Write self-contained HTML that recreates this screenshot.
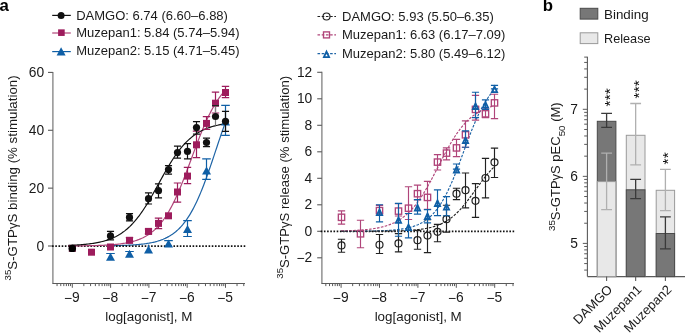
<!DOCTYPE html>
<html><head><meta charset="utf-8"><style>
html,body{margin:0;padding:0;background:#fff;}
body{width:685px;height:335px;overflow:hidden;}
svg{display:block;will-change:transform;}
.t{font-family:"Liberation Sans",sans-serif;font-size:13px;fill:#1a1a1a;}
.pl{font-family:"Liberation Sans",sans-serif;font-size:16.8px;font-weight:bold;fill:#000;}
.st{font-family:"Liberation Sans",sans-serif;font-size:15.5px;fill:#111;}
.yl{font-size:13.3px;}
.tk{font-size:13.8px;}
.xl{font-size:13.4px;}
</style></head><body>
<svg width="685" height="335" viewBox="0 0 685 335">
<g id="left">
<line x1="52.9" y1="71.9" x2="52.9" y2="283.5" stroke="#777" stroke-width="1.2"/>
<line x1="48" y1="246" x2="52.9" y2="246" stroke="#5a5a5a" stroke-width="1.1"/>
<text x="44.1" y="250.5" text-anchor="end" class="t tk">0</text>
<line x1="48" y1="188.14" x2="52.9" y2="188.14" stroke="#5a5a5a" stroke-width="1.1"/>
<text x="44.1" y="192.64" text-anchor="end" class="t tk">20</text>
<line x1="48" y1="130.28" x2="52.9" y2="130.28" stroke="#5a5a5a" stroke-width="1.1"/>
<text x="44.1" y="134.78" text-anchor="end" class="t tk">40</text>
<line x1="48" y1="72.42" x2="52.9" y2="72.42" stroke="#5a5a5a" stroke-width="1.1"/>
<text x="44.1" y="76.92" text-anchor="end" class="t tk">60</text>
<line x1="52.4" y1="283.5" x2="245" y2="283.5" stroke="#5a5a5a" stroke-width="1"/>
<line x1="57.06" y1="283.5" x2="57.06" y2="286.1" stroke="#5a5a5a" stroke-width="1"/>
<line x1="60.77" y1="283.5" x2="60.77" y2="286.1" stroke="#5a5a5a" stroke-width="1"/>
<line x1="63.8" y1="283.5" x2="63.8" y2="286.1" stroke="#5a5a5a" stroke-width="1"/>
<line x1="66.37" y1="283.5" x2="66.37" y2="286.1" stroke="#5a5a5a" stroke-width="1"/>
<line x1="68.59" y1="283.5" x2="68.59" y2="286.1" stroke="#5a5a5a" stroke-width="1"/>
<line x1="70.55" y1="283.5" x2="70.55" y2="286.1" stroke="#5a5a5a" stroke-width="1"/>
<line x1="72.3" y1="283.5" x2="72.3" y2="287.8" stroke="#5a5a5a" stroke-width="1"/>
<line x1="83.83" y1="283.5" x2="83.83" y2="286.1" stroke="#5a5a5a" stroke-width="1"/>
<line x1="90.57" y1="283.5" x2="90.57" y2="286.1" stroke="#5a5a5a" stroke-width="1"/>
<line x1="95.36" y1="283.5" x2="95.36" y2="286.1" stroke="#5a5a5a" stroke-width="1"/>
<line x1="99.07" y1="283.5" x2="99.07" y2="286.1" stroke="#5a5a5a" stroke-width="1"/>
<line x1="102.1" y1="283.5" x2="102.1" y2="286.1" stroke="#5a5a5a" stroke-width="1"/>
<line x1="104.67" y1="283.5" x2="104.67" y2="286.1" stroke="#5a5a5a" stroke-width="1"/>
<line x1="106.89" y1="283.5" x2="106.89" y2="286.1" stroke="#5a5a5a" stroke-width="1"/>
<line x1="108.85" y1="283.5" x2="108.85" y2="286.1" stroke="#5a5a5a" stroke-width="1"/>
<line x1="110.6" y1="283.5" x2="110.6" y2="287.8" stroke="#5a5a5a" stroke-width="1"/>
<line x1="122.13" y1="283.5" x2="122.13" y2="286.1" stroke="#5a5a5a" stroke-width="1"/>
<line x1="128.87" y1="283.5" x2="128.87" y2="286.1" stroke="#5a5a5a" stroke-width="1"/>
<line x1="133.66" y1="283.5" x2="133.66" y2="286.1" stroke="#5a5a5a" stroke-width="1"/>
<line x1="137.37" y1="283.5" x2="137.37" y2="286.1" stroke="#5a5a5a" stroke-width="1"/>
<line x1="140.4" y1="283.5" x2="140.4" y2="286.1" stroke="#5a5a5a" stroke-width="1"/>
<line x1="142.97" y1="283.5" x2="142.97" y2="286.1" stroke="#5a5a5a" stroke-width="1"/>
<line x1="145.19" y1="283.5" x2="145.19" y2="286.1" stroke="#5a5a5a" stroke-width="1"/>
<line x1="147.15" y1="283.5" x2="147.15" y2="286.1" stroke="#5a5a5a" stroke-width="1"/>
<line x1="148.9" y1="283.5" x2="148.9" y2="287.8" stroke="#5a5a5a" stroke-width="1"/>
<line x1="160.43" y1="283.5" x2="160.43" y2="286.1" stroke="#5a5a5a" stroke-width="1"/>
<line x1="167.17" y1="283.5" x2="167.17" y2="286.1" stroke="#5a5a5a" stroke-width="1"/>
<line x1="171.96" y1="283.5" x2="171.96" y2="286.1" stroke="#5a5a5a" stroke-width="1"/>
<line x1="175.67" y1="283.5" x2="175.67" y2="286.1" stroke="#5a5a5a" stroke-width="1"/>
<line x1="178.7" y1="283.5" x2="178.7" y2="286.1" stroke="#5a5a5a" stroke-width="1"/>
<line x1="181.27" y1="283.5" x2="181.27" y2="286.1" stroke="#5a5a5a" stroke-width="1"/>
<line x1="183.49" y1="283.5" x2="183.49" y2="286.1" stroke="#5a5a5a" stroke-width="1"/>
<line x1="185.45" y1="283.5" x2="185.45" y2="286.1" stroke="#5a5a5a" stroke-width="1"/>
<line x1="187.2" y1="283.5" x2="187.2" y2="287.8" stroke="#5a5a5a" stroke-width="1"/>
<line x1="198.73" y1="283.5" x2="198.73" y2="286.1" stroke="#5a5a5a" stroke-width="1"/>
<line x1="205.47" y1="283.5" x2="205.47" y2="286.1" stroke="#5a5a5a" stroke-width="1"/>
<line x1="210.26" y1="283.5" x2="210.26" y2="286.1" stroke="#5a5a5a" stroke-width="1"/>
<line x1="213.97" y1="283.5" x2="213.97" y2="286.1" stroke="#5a5a5a" stroke-width="1"/>
<line x1="217" y1="283.5" x2="217" y2="286.1" stroke="#5a5a5a" stroke-width="1"/>
<line x1="219.57" y1="283.5" x2="219.57" y2="286.1" stroke="#5a5a5a" stroke-width="1"/>
<line x1="221.79" y1="283.5" x2="221.79" y2="286.1" stroke="#5a5a5a" stroke-width="1"/>
<line x1="223.75" y1="283.5" x2="223.75" y2="286.1" stroke="#5a5a5a" stroke-width="1"/>
<line x1="225.5" y1="283.5" x2="225.5" y2="287.8" stroke="#5a5a5a" stroke-width="1"/>
<line x1="237.03" y1="283.5" x2="237.03" y2="286.1" stroke="#5a5a5a" stroke-width="1"/>
<line x1="243.77" y1="283.5" x2="243.77" y2="286.1" stroke="#5a5a5a" stroke-width="1"/>
<text x="71.9" y="302" text-anchor="middle" class="t tk"><tspan dy="0.8">−</tspan><tspan dy="-0.8">9</tspan></text>
<text x="110.2" y="302" text-anchor="middle" class="t tk"><tspan dy="0.8">−</tspan><tspan dy="-0.8">8</tspan></text>
<text x="148.5" y="302" text-anchor="middle" class="t tk"><tspan dy="0.8">−</tspan><tspan dy="-0.8">7</tspan></text>
<text x="186.8" y="302" text-anchor="middle" class="t tk"><tspan dy="0.8">−</tspan><tspan dy="-0.8">6</tspan></text>
<text x="225.1" y="302" text-anchor="middle" class="t tk"><tspan dy="0.8">−</tspan><tspan dy="-0.8">5</tspan></text>
<text x="148.8" y="320.8" text-anchor="middle" class="t xl">log[agonist], M</text>
<text transform="translate(16.6,177.9) rotate(-90)" text-anchor="middle" class="t yl"><tspan font-size="9.6" dy="-5.6">35</tspan><tspan dy="5.6">S-GTPγS binding (% stimulation)</tspan></text>
</g>
<g id="ldata"><polyline points="106.77,245.8 107.76,245.78 108.75,245.77 109.74,245.75 110.73,245.74 111.72,245.72 112.71,245.7 113.7,245.69 114.69,245.67 115.67,245.64 116.66,245.62 117.65,245.6 118.64,245.57 119.63,245.54 120.62,245.51 121.61,245.48 122.6,245.45 123.59,245.42 124.58,245.38 125.57,245.34 126.56,245.3 127.55,245.25 128.54,245.2 129.53,245.15 130.52,245.1 131.51,245.04 132.49,244.98 133.48,244.92 134.47,244.85 135.46,244.77 136.45,244.69 137.44,244.61 138.43,244.52 139.42,244.43 140.41,244.33 141.4,244.22 142.39,244.11 143.38,243.99 144.37,243.86 145.36,243.73 146.35,243.58 147.34,243.43 148.33,243.27 149.31,243.1 150.3,242.91 151.29,242.72 152.28,242.51 153.27,242.29 154.26,242.06 155.25,241.82 156.24,241.55 157.23,241.28 158.22,240.98 159.21,240.67 160.2,240.34 161.19,239.98 162.18,239.61 163.17,239.22 164.16,238.8 165.15,238.36 166.13,237.89 167.12,237.39 168.11,236.86 169.1,236.31 170.09,235.72 171.08,235.1 172.07,234.44 173.06,233.75 174.05,233.02 175.04,232.25 176.03,231.43 177.02,230.57 178.01,229.67 179,228.72 179.99,227.71 180.98,226.66 181.97,225.55 182.96,224.39 183.94,223.17 184.93,221.89 185.92,220.56 186.91,219.15 187.9,217.69 188.89,216.16 189.88,214.56 190.87,212.89 191.86,211.16 192.85,209.35 193.84,207.48 194.83,205.53 195.82,203.52 196.81,201.43 197.8,199.27 198.79,197.04 199.78,194.75 200.76,192.38 201.75,189.95 202.74,187.46 203.73,184.91 204.72,182.3 205.71,179.64 206.7,176.92 207.69,174.16 208.68,171.35 209.67,168.51 210.66,165.63 211.65,162.73 212.64,159.8 213.63,156.85 214.62,153.89 215.61,150.93 216.6,147.96 217.58,145 218.57,142.05 219.56,139.11 220.55,136.2 221.54,133.32 222.53,130.46 223.52,127.64 224.51,124.87 225.5,122.14" fill="none" stroke="#1e64a6" stroke-width="1.2"/>
<line x1="52.1" y1="246.1" x2="245.3" y2="246.1" stroke="#111" stroke-width="1.8" stroke-dasharray="1.6 1.593"/>
<polyline points="68.47,245.91 69.78,245.91 71.09,245.9 72.4,245.89 73.7,245.88 75.01,245.87 76.32,245.86 77.63,245.85 78.94,245.84 80.25,245.82 81.56,245.81 82.86,245.79 84.17,245.77 85.48,245.75 86.79,245.73 88.1,245.71 89.41,245.69 90.72,245.66 92.02,245.63 93.33,245.6 94.64,245.57 95.95,245.53 97.26,245.49 98.57,245.45 99.88,245.4 101.18,245.35 102.49,245.3 103.8,245.24 105.11,245.17 106.42,245.11 107.73,245.03 109.04,244.95 110.34,244.86 111.65,244.76 112.96,244.66 114.27,244.55 115.58,244.43 116.89,244.3 118.2,244.15 119.5,244 120.81,243.83 122.12,243.65 123.43,243.45 124.74,243.24 126.05,243.01 127.36,242.77 128.66,242.5 129.97,242.21 131.28,241.9 132.59,241.56 133.9,241.19 135.21,240.8 136.52,240.37 137.82,239.91 139.13,239.42 140.44,238.89 141.75,238.31 143.06,237.69 144.37,237.02 145.68,236.31 146.99,235.54 148.29,234.71 149.6,233.82 150.91,232.87 152.22,231.85 153.53,230.76 154.84,229.59 156.15,228.35 157.45,227.02 158.76,225.6 160.07,224.09 161.38,222.49 162.69,220.79 164,218.99 165.31,217.08 166.61,215.07 167.92,212.95 169.23,210.72 170.54,208.38 171.85,205.93 173.16,203.37 174.47,200.7 175.77,197.93 177.08,195.05 178.39,192.07 179.7,189 181.01,185.85 182.32,182.61 183.63,179.3 184.93,175.92 186.24,172.49 187.55,169.02 188.86,165.51 190.17,161.98 191.48,158.44 192.79,154.9 194.09,151.38 195.4,147.87 196.71,144.41 198.02,140.98 199.33,137.62 200.64,134.32 201.95,131.09 203.25,127.95 204.56,124.89 205.87,121.93 207.18,119.07 208.49,116.31 209.8,113.66 211.11,111.12 212.41,108.68 213.72,106.36 215.03,104.15 216.34,102.05 217.65,100.05 218.96,98.16 220.27,96.38 221.57,94.69 222.88,93.1 224.19,91.61 225.5,90.21" fill="none" stroke="#b0457a" stroke-width="1.2"/>
<polyline points="68.47,245.36 69.78,245.31 71.09,245.25 72.4,245.19 73.7,245.13 75.01,245.06 76.32,244.99 77.63,244.91 78.94,244.82 80.25,244.73 81.56,244.63 82.86,244.52 84.17,244.41 85.48,244.28 86.79,244.15 88.1,244 89.41,243.85 90.72,243.68 92.02,243.5 93.33,243.31 94.64,243.1 95.95,242.87 97.26,242.63 98.57,242.37 99.88,242.09 101.18,241.79 102.49,241.47 103.8,241.13 105.11,240.75 106.42,240.36 107.73,239.93 109.04,239.47 110.34,238.99 111.65,238.46 112.96,237.9 114.27,237.31 115.58,236.67 116.89,235.99 118.2,235.26 119.5,234.49 120.81,233.66 122.12,232.79 123.43,231.86 124.74,230.87 126.05,229.82 127.36,228.72 128.66,227.55 129.97,226.32 131.28,225.02 132.59,223.65 133.9,222.21 135.21,220.71 136.52,219.13 137.82,217.49 139.13,215.77 140.44,213.99 141.75,212.14 143.06,210.22 144.37,208.25 145.68,206.2 146.99,204.11 148.29,201.96 149.6,199.76 150.91,197.52 152.22,195.23 153.53,192.92 154.84,190.58 156.15,188.22 157.45,185.85 158.76,183.47 160.07,181.09 161.38,178.72 162.69,176.36 164,174.03 165.31,171.72 166.61,169.44 167.92,167.21 169.23,165.02 170.54,162.88 171.85,160.79 173.16,158.76 174.47,156.79 175.77,154.89 177.08,153.05 178.39,151.28 179.7,149.58 181.01,147.94 182.32,146.38 183.63,144.89 184.93,143.47 186.24,142.11 187.55,140.82 188.86,139.6 190.17,138.45 191.48,137.35 192.79,136.32 194.09,135.34 195.4,134.42 196.71,133.55 198.02,132.74 199.33,131.98 200.64,131.26 201.95,130.58 203.25,129.95 204.56,129.36 205.87,128.81 207.18,128.29 208.49,127.81 209.8,127.36 211.11,126.94 212.41,126.55 213.72,126.18 215.03,125.84 216.34,125.52 217.65,125.22 218.96,124.95 220.27,124.69 221.57,124.45 222.88,124.23 224.19,124.03 225.5,123.84" fill="none" stroke="#111" stroke-width="1.2"/>
<path d="M110.5 256.7V253.5M106.2 253.5H114.8" stroke="#0f5fa6" stroke-width="1.2" fill="none"/>
<path d="M129.5 253.7V251.5M125.2 251.5H133.8" stroke="#0f5fa6" stroke-width="1.2" fill="none"/>
<line x1="148.5" y1="244.6" x2="148.5" y2="249.6" stroke="#0f5fa6" stroke-width="1.3"/>
<path d="M168.5 243.6V240.6M164.2 240.6H172.8" stroke="#0f5fa6" stroke-width="1.2" fill="none"/>
<path d="M187.5 220.6V236.5M183.2 220.6H191.8M183.2 236.5H191.8" stroke="#0f5fa6" stroke-width="1.2" fill="none"/>
<path d="M206.5 158.8V179.4M202.2 158.8H210.8M202.2 179.4H210.8" stroke="#0f5fa6" stroke-width="1.2" fill="none"/>
<path d="M225.5 105.4V135.4M221.2 105.4H229.8M221.2 135.4H229.8" stroke="#0f5fa6" stroke-width="1.2" fill="none"/>
<polygon points="110.5,252.7 115,260.7 106,260.7" fill="#0f5fa6"/>
<polygon points="129.5,249.7 134,257.7 125,257.7" fill="#0f5fa6"/>
<polygon points="148.5,245.6 153,253.6 144,253.6" fill="#0f5fa6"/>
<polygon points="168.5,239.6 173,247.6 164,247.6" fill="#0f5fa6"/>
<polygon points="187.5,225.1 192,233.1 183,233.1" fill="#0f5fa6"/>
<polygon points="206.5,166.4 211,174.4 202,174.4" fill="#0f5fa6"/>
<polygon points="225.5,117.5 230,125.5 221,125.5" fill="#0f5fa6"/>
<path d="M129.5 237.6V243M125.8 237.6H133.2M125.8 243H133.2" stroke="#9d1c5c" stroke-width="1.2" fill="none"/>
<path d="M148.5 229V233.8M144.8 229H152.2M144.8 233.8H152.2" stroke="#9d1c5c" stroke-width="1.2" fill="none"/>
<path d="M158.5 218.2V228.6M154.8 218.2H162.2M154.8 228.6H162.2" stroke="#9d1c5c" stroke-width="1.2" fill="none"/>
<path d="M177.5 183V202.1M173.8 183H181.2M173.8 202.1H181.2" stroke="#9d1c5c" stroke-width="1.2" fill="none"/>
<path d="M187.5 167.4V183.7M183.8 167.4H191.2M183.8 183.7H191.2" stroke="#9d1c5c" stroke-width="1.2" fill="none"/>
<path d="M196.5 131.1V157.7M192.8 131.1H200.2M192.8 157.7H200.2" stroke="#9d1c5c" stroke-width="1.2" fill="none"/>
<path d="M206.5 116.7V129.4M202.8 116.7H210.2M202.8 129.4H210.2" stroke="#9d1c5c" stroke-width="1.2" fill="none"/>
<path d="M215.5 92.2V113M211.8 92.2H219.2M211.8 113H219.2" stroke="#9d1c5c" stroke-width="1.2" fill="none"/>
<path d="M225.5 86.3V97.7M221.8 86.3H229.2M221.8 97.7H229.2" stroke="#9d1c5c" stroke-width="1.2" fill="none"/>
<rect x="88" y="248.7" width="7.0" height="7.0" fill="#9d1c5c"/>
<rect x="107" y="243.5" width="7.0" height="7.0" fill="#9d1c5c"/>
<rect x="126" y="236.8" width="7.0" height="7.0" fill="#9d1c5c"/>
<rect x="145" y="227.9" width="7.0" height="7.0" fill="#9d1c5c"/>
<rect x="155" y="219.9" width="7.0" height="7.0" fill="#9d1c5c"/>
<rect x="165" y="212.3" width="7.0" height="7.0" fill="#9d1c5c"/>
<rect x="174" y="188.5" width="7.0" height="7.0" fill="#9d1c5c"/>
<rect x="184" y="172.6" width="7.0" height="7.0" fill="#9d1c5c"/>
<rect x="193" y="141.3" width="7.0" height="7.0" fill="#9d1c5c"/>
<rect x="203" y="119.9" width="7.0" height="7.0" fill="#9d1c5c"/>
<rect x="212" y="99.7" width="7.0" height="7.0" fill="#9d1c5c"/>
<rect x="222" y="89" width="7.0" height="7.0" fill="#9d1c5c"/>
<line x1="215.5" y1="105.6" x2="215.5" y2="125.5" stroke="#808080" stroke-width="1.2"/>
<line x1="212" y1="105.6" x2="219" y2="105.6" stroke="#222" stroke-width="1.2"/>
<path d="M110.5 231.4V239.9M106.95 231.4H114.05M106.95 239.9H114.05" stroke="#111" stroke-width="1.2" fill="none"/>
<path d="M129.5 213.6V220.9M125.95 213.6H133.05M125.95 220.9H133.05" stroke="#111" stroke-width="1.2" fill="none"/>
<path d="M148.5 192.8V204M144.95 192.8H152.05M144.95 204H152.05" stroke="#111" stroke-width="1.2" fill="none"/>
<path d="M158.5 183.8V197.8M154.95 183.8H162.05M154.95 197.8H162.05" stroke="#111" stroke-width="1.2" fill="none"/>
<path d="M168.5 165.6V174.1M164.95 165.6H172.05M164.95 174.1H172.05" stroke="#111" stroke-width="1.2" fill="none"/>
<path d="M177.5 146.2V158.1M173.95 146.2H181.05M173.95 158.1H181.05" stroke="#111" stroke-width="1.2" fill="none"/>
<path d="M187.5 143.7V158.9M183.95 143.7H191.05M183.95 158.9H191.05" stroke="#111" stroke-width="1.2" fill="none"/>
<path d="M196.5 121.6V134.2M192.95 121.6H200.05M192.95 134.2H200.05" stroke="#111" stroke-width="1.2" fill="none"/>
<path d="M206.5 138.1V146.6M202.95 138.1H210.05M202.95 146.6H210.05" stroke="#111" stroke-width="1.2" fill="none"/>
<path d="M225.5 111.3V131.4M221.95 111.3H229.05M221.95 131.4H229.05" stroke="#111" stroke-width="1.2" fill="none"/>
<circle cx="110.5" cy="235.9" r="3.6" fill="#111"/>
<circle cx="129.5" cy="217.4" r="3.6" fill="#111"/>
<circle cx="148.5" cy="198.7" r="3.6" fill="#111"/>
<circle cx="158.5" cy="190.7" r="3.6" fill="#111"/>
<circle cx="168.5" cy="169.6" r="3.6" fill="#111"/>
<circle cx="177.5" cy="152.6" r="3.6" fill="#111"/>
<circle cx="187.5" cy="151.4" r="3.6" fill="#111"/>
<circle cx="196.5" cy="127.6" r="3.6" fill="#111"/>
<circle cx="206.5" cy="142.5" r="3.6" fill="#111"/>
<circle cx="225.5" cy="121.3" r="3.6" fill="#111"/>
<circle cx="215.5" cy="116.5" r="3.6" fill="#111"/>
<rect x="68.8" y="244.9" width="7.0" height="7.0" fill="#5a1034"/>
<circle cx="72.3" cy="248.4" r="3.7" fill="#000"/></g>
<g id="right">
<line x1="321.9" y1="71.8" x2="321.9" y2="283.5" stroke="#777" stroke-width="1.2"/>
<line x1="317.2" y1="257.8" x2="321.9" y2="257.8" stroke="#5a5a5a" stroke-width="1.1"/>
<text x="312.3" y="262.25" text-anchor="end" class="t tk"><tspan dy="0.8">−</tspan><tspan dy="-0.8">2</tspan></text>
<line x1="317.2" y1="231.3" x2="321.9" y2="231.3" stroke="#5a5a5a" stroke-width="1.1"/>
<text x="312.3" y="235.75" text-anchor="end" class="t tk">0</text>
<line x1="317.2" y1="204.8" x2="321.9" y2="204.8" stroke="#5a5a5a" stroke-width="1.1"/>
<text x="312.3" y="209.25" text-anchor="end" class="t tk">2</text>
<line x1="317.2" y1="178.3" x2="321.9" y2="178.3" stroke="#5a5a5a" stroke-width="1.1"/>
<text x="312.3" y="182.75" text-anchor="end" class="t tk">4</text>
<line x1="317.2" y1="151.8" x2="321.9" y2="151.8" stroke="#5a5a5a" stroke-width="1.1"/>
<text x="312.3" y="156.25" text-anchor="end" class="t tk">6</text>
<line x1="317.2" y1="125.3" x2="321.9" y2="125.3" stroke="#5a5a5a" stroke-width="1.1"/>
<text x="312.3" y="129.75" text-anchor="end" class="t tk">8</text>
<line x1="317.2" y1="98.8" x2="321.9" y2="98.8" stroke="#5a5a5a" stroke-width="1.1"/>
<text x="312.3" y="103.25" text-anchor="end" class="t tk">10</text>
<line x1="317.2" y1="72.3" x2="321.9" y2="72.3" stroke="#5a5a5a" stroke-width="1.1"/>
<text x="312.3" y="76.75" text-anchor="end" class="t tk">12</text>
<line x1="321.4" y1="283.5" x2="514" y2="283.5" stroke="#5a5a5a" stroke-width="1"/>
<line x1="325.82" y1="283.5" x2="325.82" y2="286.1" stroke="#5a5a5a" stroke-width="1"/>
<line x1="329.54" y1="283.5" x2="329.54" y2="286.1" stroke="#5a5a5a" stroke-width="1"/>
<line x1="332.58" y1="283.5" x2="332.58" y2="286.1" stroke="#5a5a5a" stroke-width="1"/>
<line x1="335.15" y1="283.5" x2="335.15" y2="286.1" stroke="#5a5a5a" stroke-width="1"/>
<line x1="337.38" y1="283.5" x2="337.38" y2="286.1" stroke="#5a5a5a" stroke-width="1"/>
<line x1="339.34" y1="283.5" x2="339.34" y2="286.1" stroke="#5a5a5a" stroke-width="1"/>
<line x1="341.1" y1="283.5" x2="341.1" y2="287.8" stroke="#5a5a5a" stroke-width="1"/>
<line x1="352.66" y1="283.5" x2="352.66" y2="286.1" stroke="#5a5a5a" stroke-width="1"/>
<line x1="359.42" y1="283.5" x2="359.42" y2="286.1" stroke="#5a5a5a" stroke-width="1"/>
<line x1="364.22" y1="283.5" x2="364.22" y2="286.1" stroke="#5a5a5a" stroke-width="1"/>
<line x1="367.94" y1="283.5" x2="367.94" y2="286.1" stroke="#5a5a5a" stroke-width="1"/>
<line x1="370.98" y1="283.5" x2="370.98" y2="286.1" stroke="#5a5a5a" stroke-width="1"/>
<line x1="373.55" y1="283.5" x2="373.55" y2="286.1" stroke="#5a5a5a" stroke-width="1"/>
<line x1="375.78" y1="283.5" x2="375.78" y2="286.1" stroke="#5a5a5a" stroke-width="1"/>
<line x1="377.74" y1="283.5" x2="377.74" y2="286.1" stroke="#5a5a5a" stroke-width="1"/>
<line x1="379.5" y1="283.5" x2="379.5" y2="287.8" stroke="#5a5a5a" stroke-width="1"/>
<line x1="391.06" y1="283.5" x2="391.06" y2="286.1" stroke="#5a5a5a" stroke-width="1"/>
<line x1="397.82" y1="283.5" x2="397.82" y2="286.1" stroke="#5a5a5a" stroke-width="1"/>
<line x1="402.62" y1="283.5" x2="402.62" y2="286.1" stroke="#5a5a5a" stroke-width="1"/>
<line x1="406.34" y1="283.5" x2="406.34" y2="286.1" stroke="#5a5a5a" stroke-width="1"/>
<line x1="409.38" y1="283.5" x2="409.38" y2="286.1" stroke="#5a5a5a" stroke-width="1"/>
<line x1="411.95" y1="283.5" x2="411.95" y2="286.1" stroke="#5a5a5a" stroke-width="1"/>
<line x1="414.18" y1="283.5" x2="414.18" y2="286.1" stroke="#5a5a5a" stroke-width="1"/>
<line x1="416.14" y1="283.5" x2="416.14" y2="286.1" stroke="#5a5a5a" stroke-width="1"/>
<line x1="417.9" y1="283.5" x2="417.9" y2="287.8" stroke="#5a5a5a" stroke-width="1"/>
<line x1="429.46" y1="283.5" x2="429.46" y2="286.1" stroke="#5a5a5a" stroke-width="1"/>
<line x1="436.22" y1="283.5" x2="436.22" y2="286.1" stroke="#5a5a5a" stroke-width="1"/>
<line x1="441.02" y1="283.5" x2="441.02" y2="286.1" stroke="#5a5a5a" stroke-width="1"/>
<line x1="444.74" y1="283.5" x2="444.74" y2="286.1" stroke="#5a5a5a" stroke-width="1"/>
<line x1="447.78" y1="283.5" x2="447.78" y2="286.1" stroke="#5a5a5a" stroke-width="1"/>
<line x1="450.35" y1="283.5" x2="450.35" y2="286.1" stroke="#5a5a5a" stroke-width="1"/>
<line x1="452.58" y1="283.5" x2="452.58" y2="286.1" stroke="#5a5a5a" stroke-width="1"/>
<line x1="454.54" y1="283.5" x2="454.54" y2="286.1" stroke="#5a5a5a" stroke-width="1"/>
<line x1="456.3" y1="283.5" x2="456.3" y2="287.8" stroke="#5a5a5a" stroke-width="1"/>
<line x1="467.86" y1="283.5" x2="467.86" y2="286.1" stroke="#5a5a5a" stroke-width="1"/>
<line x1="474.62" y1="283.5" x2="474.62" y2="286.1" stroke="#5a5a5a" stroke-width="1"/>
<line x1="479.42" y1="283.5" x2="479.42" y2="286.1" stroke="#5a5a5a" stroke-width="1"/>
<line x1="483.14" y1="283.5" x2="483.14" y2="286.1" stroke="#5a5a5a" stroke-width="1"/>
<line x1="486.18" y1="283.5" x2="486.18" y2="286.1" stroke="#5a5a5a" stroke-width="1"/>
<line x1="488.75" y1="283.5" x2="488.75" y2="286.1" stroke="#5a5a5a" stroke-width="1"/>
<line x1="490.98" y1="283.5" x2="490.98" y2="286.1" stroke="#5a5a5a" stroke-width="1"/>
<line x1="492.94" y1="283.5" x2="492.94" y2="286.1" stroke="#5a5a5a" stroke-width="1"/>
<line x1="494.7" y1="283.5" x2="494.7" y2="287.8" stroke="#5a5a5a" stroke-width="1"/>
<line x1="506.26" y1="283.5" x2="506.26" y2="286.1" stroke="#5a5a5a" stroke-width="1"/>
<line x1="513.02" y1="283.5" x2="513.02" y2="286.1" stroke="#5a5a5a" stroke-width="1"/>
<text x="340.7" y="302" text-anchor="middle" class="t tk"><tspan dy="0.8">−</tspan><tspan dy="-0.8">9</tspan></text>
<text x="379.1" y="302" text-anchor="middle" class="t tk"><tspan dy="0.8">−</tspan><tspan dy="-0.8">8</tspan></text>
<text x="417.5" y="302" text-anchor="middle" class="t tk"><tspan dy="0.8">−</tspan><tspan dy="-0.8">7</tspan></text>
<text x="455.9" y="302" text-anchor="middle" class="t tk"><tspan dy="0.8">−</tspan><tspan dy="-0.8">6</tspan></text>
<text x="494.3" y="302" text-anchor="middle" class="t tk"><tspan dy="0.8">−</tspan><tspan dy="-0.8">5</tspan></text>
<text x="418.2" y="320.8" text-anchor="middle" class="t xl">log[agonist], M</text>
<text transform="translate(288.8,177.3) rotate(-90)" text-anchor="middle" class="t yl" style="font-size:13.1px"><tspan font-size="9.6" dy="-5.6">35</tspan><tspan dy="5.6">S-GTPγS release (% stimulation)</tspan></text>
<line x1="320.7" y1="231.4" x2="514.2" y2="231.4" stroke="#111" stroke-width="1.7" stroke-dasharray="1.6 1.598"/>
</g>
<g id="rdata"><polyline points="341.1,231.26 342.38,231.26 343.66,231.26 344.94,231.25 346.22,231.25 347.5,231.25 348.78,231.24 350.06,231.23 351.34,231.23 352.62,231.22 353.9,231.21 355.18,231.21 356.46,231.2 357.74,231.19 359.02,231.18 360.3,231.17 361.58,231.16 362.86,231.14 364.14,231.13 365.42,231.11 366.7,231.09 367.98,231.08 369.26,231.06 370.54,231.03 371.82,231.01 373.1,230.98 374.38,230.95 375.66,230.92 376.94,230.89 378.22,230.85 379.5,230.81 380.78,230.76 382.06,230.71 383.34,230.66 384.62,230.6 385.9,230.54 387.18,230.47 388.46,230.39 389.74,230.31 391.02,230.22 392.3,230.12 393.58,230.01 394.86,229.89 396.14,229.76 397.42,229.62 398.7,229.47 399.98,229.31 401.26,229.13 402.54,228.93 403.82,228.71 405.1,228.48 406.38,228.23 407.66,227.95 408.94,227.65 410.22,227.32 411.5,226.97 412.78,226.58 414.06,226.16 415.34,225.7 416.62,225.21 417.9,224.67 419.18,224.09 420.46,223.46 421.74,222.78 423.02,222.04 424.3,221.25 425.58,220.39 426.86,219.46 428.14,218.46 429.42,217.38 430.7,216.23 431.98,214.98 433.26,213.65 434.54,212.23 435.82,210.7 437.1,209.07 438.38,207.34 439.66,205.49 440.94,203.54 442.22,201.47 443.5,199.28 444.78,196.97 446.06,194.55 447.34,192.01 448.62,189.36 449.9,186.59 451.18,183.71 452.46,180.74 453.74,177.66 455.02,174.5 456.3,171.26 457.58,167.95 458.86,164.58 460.14,161.16 461.42,157.71 462.7,154.23 463.98,150.75 465.26,147.27 466.54,143.81 467.82,140.38 469.1,137 470.38,133.67 471.66,130.41 472.94,127.23 474.22,124.13 475.5,121.13 476.78,118.23 478.06,115.44 479.34,112.76 480.62,110.19 481.9,107.74 483.18,105.4 484.46,103.19 485.74,101.09 487.02,99.1 488.3,97.23 489.58,95.47 490.86,93.82 492.14,92.27 493.42,90.82 494.7,89.46" fill="none" stroke="#1e64a6" stroke-width="1.15" stroke-dasharray="2.6 1.4"/>
<polyline points="341.1,230.92 342.38,230.89 343.66,230.86 344.94,230.82 346.22,230.78 347.5,230.74 348.78,230.7 350.06,230.65 351.34,230.6 352.62,230.54 353.9,230.48 355.18,230.42 356.46,230.35 357.74,230.27 359.02,230.19 360.3,230.1 361.58,230.01 362.86,229.91 364.14,229.8 365.42,229.68 366.7,229.55 367.98,229.42 369.26,229.27 370.54,229.11 371.82,228.94 373.1,228.75 374.38,228.55 375.66,228.34 376.94,228.11 378.22,227.86 379.5,227.59 380.78,227.31 382.06,227 383.34,226.67 384.62,226.31 385.9,225.93 387.18,225.52 388.46,225.08 389.74,224.61 391.02,224.11 392.3,223.57 393.58,222.99 394.86,222.37 396.14,221.71 397.42,221.01 398.7,220.26 399.98,219.46 401.26,218.61 402.54,217.7 403.82,216.74 405.1,215.71 406.38,214.63 407.66,213.48 408.94,212.27 410.22,210.99 411.5,209.64 412.78,208.22 414.06,206.72 415.34,205.16 416.62,203.52 417.9,201.8 419.18,200.02 420.46,198.16 421.74,196.23 423.02,194.23 424.3,192.16 425.58,190.03 426.86,187.84 428.14,185.59 429.42,183.3 430.7,180.95 431.98,178.56 433.26,176.14 434.54,173.7 435.82,171.22 437.1,168.74 438.38,166.25 439.66,163.76 440.94,161.27 442.22,158.81 443.5,156.36 444.78,153.94 446.06,151.56 447.34,149.22 448.62,146.92 449.9,144.68 451.18,142.49 452.46,140.37 453.74,138.31 455.02,136.31 456.3,134.39 457.58,132.53 458.86,130.75 460.14,129.05 461.42,127.41 462.7,125.85 463.98,124.36 465.26,122.95 466.54,121.6 467.82,120.33 469.1,119.12 470.38,117.98 471.66,116.9 472.94,115.88 474.22,114.92 475.5,114.02 476.78,113.17 478.06,112.38 479.34,111.63 480.62,110.93 481.9,110.27 483.18,109.66 484.46,109.08 485.74,108.55 487.02,108.05 488.3,107.58 489.58,107.14 490.86,106.74 492.14,106.36 493.42,106 494.7,105.67" fill="none" stroke="#b0457a" stroke-width="1.15" stroke-dasharray="2.6 1.4"/>
<polyline points="341.1,231.29 342.38,231.29 343.66,231.29 344.94,231.29 346.22,231.29 347.5,231.29 348.78,231.28 350.06,231.28 351.34,231.28 352.62,231.28 353.9,231.28 355.18,231.28 356.46,231.27 357.74,231.27 359.02,231.27 360.3,231.27 361.58,231.26 362.86,231.26 364.14,231.25 365.42,231.25 366.7,231.25 367.98,231.24 369.26,231.24 370.54,231.23 371.82,231.22 373.1,231.22 374.38,231.21 375.66,231.2 376.94,231.19 378.22,231.18 379.5,231.17 380.78,231.16 382.06,231.15 383.34,231.14 384.62,231.12 385.9,231.1 387.18,231.09 388.46,231.07 389.74,231.05 391.02,231.02 392.3,231 393.58,230.97 394.86,230.94 396.14,230.91 397.42,230.88 398.7,230.84 399.98,230.8 401.26,230.75 402.54,230.7 403.82,230.65 405.1,230.59 406.38,230.53 407.66,230.46 408.94,230.38 410.22,230.3 411.5,230.21 412.78,230.11 414.06,230.01 415.34,229.89 416.62,229.77 417.9,229.63 419.18,229.49 420.46,229.33 421.74,229.15 423.02,228.96 424.3,228.76 425.58,228.54 426.86,228.3 428.14,228.04 429.42,227.76 430.7,227.45 431.98,227.12 433.26,226.77 434.54,226.38 435.82,225.97 437.1,225.52 438.38,225.03 439.66,224.52 440.94,223.96 442.22,223.36 443.5,222.72 444.78,222.03 446.06,221.29 447.34,220.51 448.62,219.67 449.9,218.78 451.18,217.84 452.46,216.83 453.74,215.77 455.02,214.65 456.3,213.48 457.58,212.24 458.86,210.94 460.14,209.59 461.42,208.17 462.7,206.71 463.98,205.19 465.26,203.62 466.54,202.01 467.82,200.36 469.1,198.67 470.38,196.95 471.66,195.2 472.94,193.44 474.22,191.66 475.5,189.87 476.78,188.09 478.06,186.31 479.34,184.55 480.62,182.81 481.9,181.09 483.18,179.4 484.46,177.75 485.74,176.15 487.02,174.58 488.3,173.07 489.58,171.61 490.86,170.21 492.14,168.86 493.42,167.57 494.7,166.34" fill="none" stroke="#222" stroke-width="1.15" stroke-dasharray="2.6 1.4"/>
<path d="M341.5 239.2V252.2M337.85 239.2H345.15M337.85 252.2H345.15" stroke="#222" stroke-width="1.15" fill="none"/>
<path d="M379.5 234.5V253.5M375.85 234.5H383.15M375.85 253.5H383.15" stroke="#222" stroke-width="1.15" fill="none"/>
<path d="M398.5 233.6V251.8M394.85 233.6H402.15M394.85 251.8H402.15" stroke="#222" stroke-width="1.15" fill="none"/>
<path d="M417.5 230.4V249.2M413.85 230.4H421.15M413.85 249.2H421.15" stroke="#222" stroke-width="1.15" fill="none"/>
<path d="M427.5 219.7V252.6M423.85 219.7H431.15M423.85 252.6H431.15" stroke="#222" stroke-width="1.15" fill="none"/>
<path d="M437.5 224.3V241.7M433.85 224.3H441.15M433.85 241.7H441.15" stroke="#222" stroke-width="1.15" fill="none"/>
<path d="M446.5 205.2V232.1M442.85 205.2H450.15M442.85 232.1H450.15" stroke="#222" stroke-width="1.15" fill="none"/>
<path d="M456.5 188.2V199.6M452.85 188.2H460.15M452.85 199.6H460.15" stroke="#222" stroke-width="1.15" fill="none"/>
<path d="M465.5 173V207.9M461.85 173H469.15M461.85 207.9H469.15" stroke="#222" stroke-width="1.15" fill="none"/>
<path d="M475.5 183.6V217.3M471.85 183.6H479.15M471.85 217.3H479.15" stroke="#222" stroke-width="1.15" fill="none"/>
<path d="M485.5 158.3V197.8M481.85 158.3H489.15M481.85 197.8H489.15" stroke="#222" stroke-width="1.15" fill="none"/>
<path d="M494.5 148.1V177.5M490.85 148.1H498.15M490.85 177.5H498.15" stroke="#222" stroke-width="1.15" fill="none"/>
<circle cx="341.5" cy="245.4" r="3.5" fill="none" stroke="#222" stroke-width="1.2"/>
<circle cx="379.5" cy="244.75" r="3.5" fill="none" stroke="#222" stroke-width="1.2"/>
<circle cx="398.5" cy="243.4" r="3.5" fill="none" stroke="#222" stroke-width="1.2"/>
<circle cx="417.5" cy="240.2" r="3.5" fill="none" stroke="#222" stroke-width="1.2"/>
<circle cx="427.5" cy="235.6" r="3.5" fill="none" stroke="#222" stroke-width="1.2"/>
<circle cx="437.5" cy="231.8" r="3.5" fill="none" stroke="#222" stroke-width="1.2"/>
<circle cx="446.5" cy="219.2" r="3.5" fill="none" stroke="#222" stroke-width="1.2"/>
<circle cx="456.5" cy="193.7" r="3.5" fill="none" stroke="#222" stroke-width="1.2"/>
<circle cx="465.5" cy="190.2" r="3.5" fill="none" stroke="#222" stroke-width="1.2"/>
<circle cx="475.5" cy="200.8" r="3.5" fill="none" stroke="#222" stroke-width="1.2"/>
<circle cx="485.5" cy="178" r="3.5" fill="none" stroke="#222" stroke-width="1.2"/>
<circle cx="494.5" cy="162.3" r="3.5" fill="none" stroke="#222" stroke-width="1.2"/>
<path d="M341.5 210.9V224.1M337.85 210.9H345.15M337.85 224.1H345.15" stroke="#b0457a" stroke-width="1.15" fill="none"/>
<path d="M360.5 220.2V247.7M356.85 220.2H364.15M356.85 247.7H364.15" stroke="#b0457a" stroke-width="1.15" fill="none"/>
<path d="M379.5 205.3V215.2M375.85 205.3H383.15M375.85 215.2H383.15" stroke="#b0457a" stroke-width="1.15" fill="none"/>
<path d="M398.5 203.7V216M394.85 203.7H402.15M394.85 216H402.15" stroke="#b0457a" stroke-width="1.15" fill="none"/>
<path d="M408.5 186.7V219.5M404.85 186.7H412.15M404.85 219.5H412.15" stroke="#b0457a" stroke-width="1.15" fill="none"/>
<path d="M417.5 185.1V199.8M413.85 185.1H421.15M413.85 199.8H421.15" stroke="#b0457a" stroke-width="1.15" fill="none"/>
<path d="M427.5 181.3V209.3M423.85 181.3H431.15M423.85 209.3H431.15" stroke="#b0457a" stroke-width="1.15" fill="none"/>
<path d="M437.5 154.6V170M433.85 154.6H441.15M433.85 170H441.15" stroke="#b0457a" stroke-width="1.15" fill="none"/>
<path d="M446.5 147.9V159.9M442.85 147.9H450.15M442.85 159.9H450.15" stroke="#b0457a" stroke-width="1.15" fill="none"/>
<path d="M456.5 139.3V156.6M452.85 139.3H460.15M452.85 156.6H460.15" stroke="#b0457a" stroke-width="1.15" fill="none"/>
<path d="M465.5 120.9V147.2M461.85 120.9H469.15M461.85 147.2H469.15" stroke="#b0457a" stroke-width="1.15" fill="none"/>
<path d="M475.5 95.3V120.1M471.85 95.3H479.15M471.85 120.1H479.15" stroke="#b0457a" stroke-width="1.15" fill="none"/>
<path d="M485.5 109V117.6M481.85 109H489.15M481.85 117.6H489.15" stroke="#b0457a" stroke-width="1.15" fill="none"/>
<path d="M494.5 94.2V118.6M490.85 94.2H498.15M490.85 118.6H498.15" stroke="#b0457a" stroke-width="1.15" fill="none"/>
<rect x="338.35" y="214.15" width="6.3" height="6.3" fill="none" stroke="#b0457a" stroke-width="1.35"/>
<rect x="357.35" y="230.65" width="6.3" height="6.3" fill="none" stroke="#b0457a" stroke-width="1.35"/>
<rect x="376.35" y="207.45" width="6.3" height="6.3" fill="none" stroke="#b0457a" stroke-width="1.35"/>
<rect x="395.35" y="207.95" width="6.3" height="6.3" fill="none" stroke="#b0457a" stroke-width="1.35"/>
<rect x="405.35" y="205.05" width="6.3" height="6.3" fill="none" stroke="#b0457a" stroke-width="1.35"/>
<rect x="414.35" y="190.55" width="6.3" height="6.3" fill="none" stroke="#b0457a" stroke-width="1.35"/>
<rect x="424.35" y="194.25" width="6.3" height="6.3" fill="none" stroke="#b0457a" stroke-width="1.35"/>
<rect x="434.35" y="158.95" width="6.3" height="6.3" fill="none" stroke="#b0457a" stroke-width="1.35"/>
<rect x="443.35" y="149.95" width="6.3" height="6.3" fill="none" stroke="#b0457a" stroke-width="1.35"/>
<rect x="453.35" y="144.75" width="6.3" height="6.3" fill="none" stroke="#b0457a" stroke-width="1.35"/>
<rect x="462.35" y="131.65" width="6.3" height="6.3" fill="none" stroke="#b0457a" stroke-width="1.35"/>
<rect x="472.35" y="106.25" width="6.3" height="6.3" fill="none" stroke="#b0457a" stroke-width="1.35"/>
<rect x="482.35" y="110.65" width="6.3" height="6.3" fill="none" stroke="#b0457a" stroke-width="1.35"/>
<rect x="491.35" y="99.75" width="6.3" height="6.3" fill="none" stroke="#b0457a" stroke-width="1.35"/>
<path d="M379.5 204.7V221.8M375.9 204.7H383.1M375.9 221.8H383.1" stroke="#0f5fa6" stroke-width="1.15" fill="none"/>
<path d="M398.5 203.4V236.2M394.9 203.4H402.1M394.9 236.2H402.1" stroke="#0f5fa6" stroke-width="1.15" fill="none"/>
<path d="M408.5 213.5V237.9M404.9 213.5H412.1M404.9 237.9H412.1" stroke="#0f5fa6" stroke-width="1.15" fill="none"/>
<path d="M417.5 199.6V214.1M413.9 199.6H421.1M413.9 214.1H421.1" stroke="#0f5fa6" stroke-width="1.15" fill="none"/>
<path d="M427.5 209.6V222.8M423.9 209.6H431.1M423.9 222.8H431.1" stroke="#0f5fa6" stroke-width="1.15" fill="none"/>
<path d="M437.5 189.9V215.6M433.9 189.9H441.1M433.9 215.6H441.1" stroke="#0f5fa6" stroke-width="1.15" fill="none"/>
<path d="M446.5 196.6V215.7M442.9 196.6H450.1M442.9 215.7H450.1" stroke="#0f5fa6" stroke-width="1.15" fill="none"/>
<path d="M456.5 164V169.1M452.9 164H460.1M452.9 169.1H460.1" stroke="#0f5fa6" stroke-width="1.15" fill="none"/>
<path d="M465.5 130.8V147.2M461.9 130.8H469.1M461.9 147.2H469.1" stroke="#0f5fa6" stroke-width="1.15" fill="none"/>
<path d="M475.5 92.2V117.6M471.9 92.2H479.1M471.9 117.6H479.1" stroke="#0f5fa6" stroke-width="1.15" fill="none"/>
<path d="M485.5 99.8V109.4M481.9 99.8H489.1M481.9 109.4H489.1" stroke="#0f5fa6" stroke-width="1.15" fill="none"/>
<path d="M494.5 85.4V88.8M490.9 85.4H498.1M490.9 88.8H498.1" stroke="#0f5fa6" stroke-width="1.15" fill="none"/>
<polygon points="379.5,209.47 382.1,215.07 376.9,215.07" fill="none" stroke="#0f5fa6" stroke-width="1.8" stroke-linejoin="miter"/>
<polygon points="398.5,217.32 401.1,222.92 395.9,222.92" fill="none" stroke="#0f5fa6" stroke-width="1.8" stroke-linejoin="miter"/>
<polygon points="408.5,224.52 411.1,230.12 405.9,230.12" fill="none" stroke="#0f5fa6" stroke-width="1.8" stroke-linejoin="miter"/>
<polygon points="417.5,204.92 420.1,210.52 414.9,210.52" fill="none" stroke="#0f5fa6" stroke-width="1.8" stroke-linejoin="miter"/>
<polygon points="427.5,213.42 430.1,219.02 424.9,219.02" fill="none" stroke="#0f5fa6" stroke-width="1.8" stroke-linejoin="miter"/>
<polygon points="437.5,200.42 440.1,206.02 434.9,206.02" fill="none" stroke="#0f5fa6" stroke-width="1.8" stroke-linejoin="miter"/>
<polygon points="446.5,204.12 449.1,209.72 443.9,209.72" fill="none" stroke="#0f5fa6" stroke-width="1.8" stroke-linejoin="miter"/>
<polygon points="456.5,166.92 459.1,172.52 453.9,172.52" fill="none" stroke="#0f5fa6" stroke-width="1.8" stroke-linejoin="miter"/>
<polygon points="465.5,137.42 468.1,143.02 462.9,143.02" fill="none" stroke="#0f5fa6" stroke-width="1.8" stroke-linejoin="miter"/>
<polygon points="475.5,103.42 478.1,109.02 472.9,109.02" fill="none" stroke="#0f5fa6" stroke-width="1.8" stroke-linejoin="miter"/>
<polygon points="485.5,102.12 488.1,107.72 482.9,107.72" fill="none" stroke="#0f5fa6" stroke-width="1.8" stroke-linejoin="miter"/>
<polygon points="494.5,86.62 497.1,92.22 491.9,92.22" fill="none" stroke="#0f5fa6" stroke-width="1.8" stroke-linejoin="miter"/></g>
<line x1="52.2" y1="15.4" x2="70.8" y2="15.4" stroke="#111" stroke-width="1.2"/><circle cx="61.1" cy="15.4" r="3.5" fill="#111"/><text x="76.2" y="19.6" class="t">DAMGO: 6.74 (6.60–6.88)</text>
<line x1="52.2" y1="33" x2="70.8" y2="33" stroke="#b0457a" stroke-width="1.2"/><rect x="58.1" y="29.35" width="6.6" height="6.6" fill="#9d1c5c"/><text x="76.2" y="36.8" class="t">Muzepan1: 5.84 (5.74–5.94)</text>
<line x1="52.2" y1="51.6" x2="70.8" y2="51.6" stroke="#0f5fa6" stroke-width="1.2"/><polygon points="61.1,47.3 65.6,55.5 56.6,55.5" fill="#0f5fa6"/><text x="76.2" y="55.2" class="t">Muzepan2: 5.15 (4.71–5.45)</text>
<line x1="317.5" y1="16.5" x2="336" y2="16.5" stroke="#222" stroke-width="1.2" stroke-dasharray="2.6 1.6"/><circle cx="326.5" cy="16.5" r="3.5" fill="none" stroke="#222" stroke-width="1.2"/><text x="342" y="20.5" class="t">DAMGO: 5.93 (5.50–6.35)</text>
<line x1="317.5" y1="34.9" x2="336" y2="34.9" stroke="#b0457a" stroke-width="1.2" stroke-dasharray="2.6 1.6"/><rect x="323.5" y="31.9" width="6.0" height="6.0" fill="none" stroke="#b0457a" stroke-width="1.35"/><text x="342" y="38.6" class="t">Muzepan1: 6.63 (6.17–7.09)</text>
<line x1="317.5" y1="53.7" x2="336" y2="53.7" stroke="#1e64a6" stroke-width="1.2" stroke-dasharray="2.6 1.6"/><polygon points="326.5,51.52 329.1,57.12 323.9,57.12" fill="none" stroke="#0f5fa6" stroke-width="1.8" stroke-linejoin="miter"/><text x="342" y="58.2" class="t">Muzepan2: 5.80 (5.49–6.12)</text>
<text x="-0.4" y="11.4" class="pl">a</text>
<text x="542.8" y="11.2" class="pl">b</text>
<rect x="580.2" y="8.3" width="17.6" height="10.8" fill="#777777" stroke="#4a4a4a" stroke-width="1"/>
<text x="604" y="19" class="t" textLength="44.6" lengthAdjust="spacingAndGlyphs">Binding</text>
<rect x="580.2" y="32.8" width="17.6" height="10.8" fill="#e8e8e8" stroke="#9a9a9a" stroke-width="1"/>
<text x="604" y="43.4" class="t" textLength="46.6" lengthAdjust="spacingAndGlyphs">Release</text>
<line x1="587.4" y1="56.7" x2="587.4" y2="276.6" stroke="#5a5a5a" stroke-width="1.1"/>
<line x1="584.2" y1="270.08" x2="587.4" y2="270.08" stroke="#5a5a5a" stroke-width="1"/>
<line x1="584.2" y1="263.58" x2="587.4" y2="263.58" stroke="#5a5a5a" stroke-width="1"/>
<line x1="584.2" y1="258.27" x2="587.4" y2="258.27" stroke="#5a5a5a" stroke-width="1"/>
<line x1="584.2" y1="253.79" x2="587.4" y2="253.79" stroke="#5a5a5a" stroke-width="1"/>
<line x1="584.2" y1="249.9" x2="587.4" y2="249.9" stroke="#5a5a5a" stroke-width="1"/>
<line x1="584.2" y1="246.47" x2="587.4" y2="246.47" stroke="#5a5a5a" stroke-width="1"/>
<line x1="582.8" y1="243.4" x2="587.4" y2="243.4" stroke="#5a5a5a" stroke-width="1"/>
<line x1="584.2" y1="223.22" x2="587.4" y2="223.22" stroke="#5a5a5a" stroke-width="1"/>
<line x1="584.2" y1="211.41" x2="587.4" y2="211.41" stroke="#5a5a5a" stroke-width="1"/>
<line x1="584.2" y1="203.03" x2="587.4" y2="203.03" stroke="#5a5a5a" stroke-width="1"/>
<line x1="584.2" y1="196.53" x2="587.4" y2="196.53" stroke="#5a5a5a" stroke-width="1"/>
<line x1="584.2" y1="191.22" x2="587.4" y2="191.22" stroke="#5a5a5a" stroke-width="1"/>
<line x1="584.2" y1="186.74" x2="587.4" y2="186.74" stroke="#5a5a5a" stroke-width="1"/>
<line x1="584.2" y1="182.85" x2="587.4" y2="182.85" stroke="#5a5a5a" stroke-width="1"/>
<line x1="584.2" y1="179.42" x2="587.4" y2="179.42" stroke="#5a5a5a" stroke-width="1"/>
<line x1="582.8" y1="176.35" x2="587.4" y2="176.35" stroke="#5a5a5a" stroke-width="1"/>
<line x1="584.2" y1="156.17" x2="587.4" y2="156.17" stroke="#5a5a5a" stroke-width="1"/>
<line x1="584.2" y1="144.36" x2="587.4" y2="144.36" stroke="#5a5a5a" stroke-width="1"/>
<line x1="584.2" y1="135.98" x2="587.4" y2="135.98" stroke="#5a5a5a" stroke-width="1"/>
<line x1="584.2" y1="129.48" x2="587.4" y2="129.48" stroke="#5a5a5a" stroke-width="1"/>
<line x1="584.2" y1="124.17" x2="587.4" y2="124.17" stroke="#5a5a5a" stroke-width="1"/>
<line x1="584.2" y1="119.69" x2="587.4" y2="119.69" stroke="#5a5a5a" stroke-width="1"/>
<line x1="584.2" y1="115.8" x2="587.4" y2="115.8" stroke="#5a5a5a" stroke-width="1"/>
<line x1="584.2" y1="112.37" x2="587.4" y2="112.37" stroke="#5a5a5a" stroke-width="1"/>
<line x1="582.8" y1="109.3" x2="587.4" y2="109.3" stroke="#5a5a5a" stroke-width="1"/>
<line x1="584.2" y1="89.12" x2="587.4" y2="89.12" stroke="#5a5a5a" stroke-width="1"/>
<line x1="584.2" y1="77.31" x2="587.4" y2="77.31" stroke="#5a5a5a" stroke-width="1"/>
<line x1="584.2" y1="68.93" x2="587.4" y2="68.93" stroke="#5a5a5a" stroke-width="1"/>
<line x1="584.2" y1="62.43" x2="587.4" y2="62.43" stroke="#5a5a5a" stroke-width="1"/>
<line x1="584.2" y1="57.12" x2="587.4" y2="57.12" stroke="#5a5a5a" stroke-width="1"/>
<text x="578" y="248" text-anchor="end" class="t tk">5</text>
<text x="578" y="180.95" text-anchor="end" class="t tk">6</text>
<text x="578" y="113.9" text-anchor="end" class="t tk">7</text>
<line x1="587.4" y1="276.6" x2="685" y2="276.6" stroke="#5a5a5a" stroke-width="1.1"/>
<text transform="translate(560.3,166.7) rotate(-90)" text-anchor="middle" class="t"><tspan font-size="9.8" dy="-5.6">35</tspan><tspan dy="5.6">S-GTPγS pEC</tspan><tspan font-size="9.8" dy="4.2">50</tspan><tspan dy="-4.2"> (M)</tspan></text>
<rect x="597.3" y="121.3" width="18.6" height="155.3" fill="#777777" stroke="#4a4a4a" stroke-width="1"/>
<rect x="597.3" y="181.6" width="18.6" height="95" fill="#e8e8e8" stroke="#9a9a9a" stroke-width="1"/>
<path d="M606.6 153.1V209.6M601.2 153.1H612M601.2 209.6H612" stroke="#b0b0b0" stroke-width="1.3" fill="none"/>
<path d="M606.6 113.4V127.4M601.2 113.4H612M601.2 127.4H612" stroke="#3a3a3a" stroke-width="1.3" fill="none"/>
<line x1="606.6" y1="276.6" x2="606.6" y2="281" stroke="#5a5a5a" stroke-width="1.1"/>
<rect x="626.3" y="135.3" width="18.7" height="141.3" fill="#e8e8e8" stroke="#9a9a9a" stroke-width="1"/>
<rect x="626.3" y="189.8" width="18.7" height="86.8" fill="#777777" stroke="#4a4a4a" stroke-width="1"/>
<path d="M635.65 103.5V164.9M630.25 103.5H641.05M630.25 164.9H641.05" stroke="#b0b0b0" stroke-width="1.3" fill="none"/>
<path d="M635.65 179.4V198.7M630.25 179.4H641.05M630.25 198.7H641.05" stroke="#3a3a3a" stroke-width="1.3" fill="none"/>
<line x1="635.65" y1="276.6" x2="635.65" y2="281" stroke="#5a5a5a" stroke-width="1.1"/>
<rect x="656.2" y="190.3" width="18.4" height="86.3" fill="#e8e8e8" stroke="#9a9a9a" stroke-width="1"/>
<rect x="656.2" y="233.5" width="18.4" height="43.1" fill="#777777" stroke="#4a4a4a" stroke-width="1"/>
<path d="M665.4 169.3V210.6M660 169.3H670.8M660 210.6H670.8" stroke="#b0b0b0" stroke-width="1.3" fill="none"/>
<path d="M665.4 216.8V248.9M660 216.8H670.8M660 248.9H670.8" stroke="#3a3a3a" stroke-width="1.3" fill="none"/>
<line x1="665.4" y1="276.6" x2="665.4" y2="281" stroke="#5a5a5a" stroke-width="1.1"/>
<text transform="translate(614.8,106.4) rotate(-90)" class="st">***</text>
<text transform="translate(644,98.4) rotate(-90)" class="st">***</text>
<text transform="translate(673.4,164.4) rotate(-90)" class="st">**</text>
<text transform="translate(613.2,290.3) rotate(-45)" text-anchor="end" class="t">DAMGO</text>
<text transform="translate(642.3,290.3) rotate(-45)" text-anchor="end" class="t">Muzepan1</text>
<text transform="translate(672.3,290.3) rotate(-45)" text-anchor="end" class="t">Muzepan2</text>
</svg>
</body></html>
